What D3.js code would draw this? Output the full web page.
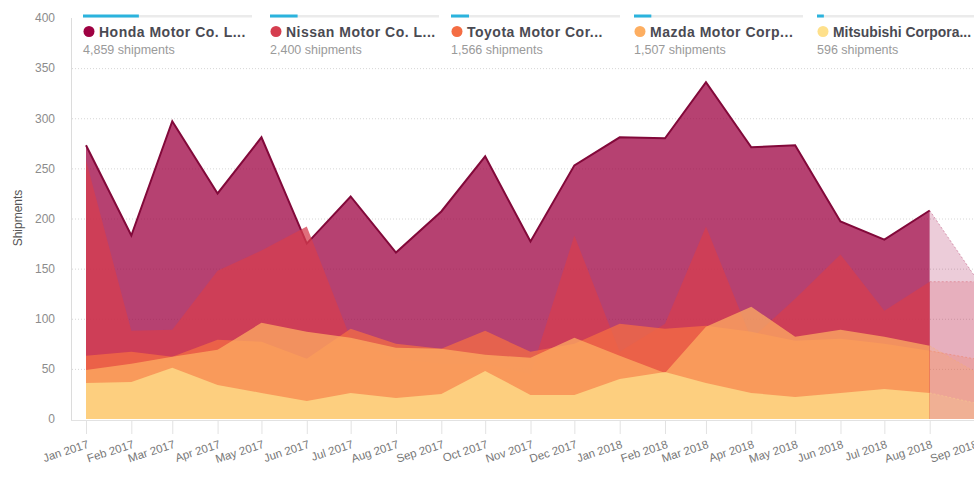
<!DOCTYPE html>
<html><head><meta charset="utf-8">
<script src="https://cdn.jsdelivr.net/npm/d3@7"></script>
<style>
body{margin:0;background:#fff;}
svg{display:block;font-family:"Liberation Sans",Arial,sans-serif;}
</style>
</head><body>
<svg id="chart" width="974" height="484"></svg>
<script>
// ---------- data ----------
const months = ["2017-01-01","2017-02-01","2017-03-01","2017-04-01","2017-05-01","2017-06-01",
  "2017-07-01","2017-08-01","2017-09-01","2017-10-01","2017-11-01","2017-12-01",
  "2018-01-01","2018-02-01","2018-03-01","2018-04-01","2018-05-01","2018-06-01",
  "2018-07-01","2018-08-01"];
const projectedMonth = "2018-09-01";
const tickLabels = ["Jan 2017","Feb 2017","Mar 2017","Apr 2017","May 2017","Jun 2017",
  "Jul 2017","Aug 2017","Sep 2017","Oct 2017","Nov 2017","Dec 2017",
  "Jan 2018","Feb 2018","Mar 2018","Apr 2018","May 2018","Jun 2018",
  "Jul 2018","Aug 2018","Sep 2018"];
const yTicks = [0,50,100,150,200,250,300,350,400];

const seriesNames  = ["Honda Motor Co. L...","Nissan Motor Co. L...","Toyota Motor Cor...","Mazda Motor Corp...","Mitsubishi Corpora..."];
const seriesTotals = [4859, 2400, 1566, 1507, 596];
const seriesColors = ["#9e0142","#d53e4f","#f46d43","#fdae61","#fee08b"];

const honda      = [273,183,297,225,281,175,222,166,207,262,177,253,281,280,336,271,273,197,179,208];
const nissan     = [258, 88, 89,148,168,192, 80, 60, 55, 55, 45,183, 67, 95,192, 80,120,164,108,137];
const toyota     = [ 63, 67, 62, 79, 77, 60, 90, 75, 70, 88, 67, 75, 95, 90, 93, 87, 78, 80, 75, 68];
const mazda      = [ 49, 55, 62, 69, 96, 87, 81, 71, 70, 64, 61, 81, 63, 46, 92,112, 82, 89, 82, 73];
const mitsubishi = [ 36, 37, 51, 34, 26, 18, 26, 21, 25, 48, 24, 24, 40, 47, 36, 26, 22, 26, 30, 26];
// projected (incomplete) month values
const projected  = [142, 137, 60, 47, 16];

const seriesValues = [honda, nissan, toyota, mazda, mitsubishi];

// ---------- setup ----------
const parse = d3.timeParse("%Y-%m-%d");
const dates = months.map(parse);
const projDate = parse(projectedMonth);
const tickDates = dates.concat([projDate]);

const svg = d3.select("#chart");
const x = d3.scaleTime().domain([dates[0], projDate]).range([86, 975]);
const y = d3.scaleLinear().domain([0, 400]).range([419, 18]);

// gridlines
svg.append("g").selectAll("line").data(yTicks.filter(v => v > 0 && v < 400)).join("line")
  .attr("x1", 72).attr("x2", 974)
  .attr("y1", d => y(d) + 0.5).attr("y2", d => y(d) + 0.5)
  .attr("stroke", "#d6d6d6").attr("stroke-width", 1).attr("stroke-dasharray", "1,2");

// y axis
const yAxis = svg.append("g").attr("transform", "translate(71,0)")
  .call(d3.axisLeft(y).tickValues(yTicks).tickSize(0).tickPadding(16));
yAxis.select(".domain").remove();
yAxis.selectAll("text").attr("fill", "#8c8c8c").style("font-size", "12px")
  .style("font-family", '"Liberation Sans",Arial,sans-serif');
svg.append("line").attr("x1", 71.5).attr("x2", 71.5).attr("y1", 18).attr("y2", 420)
  .attr("stroke", "#dcdcdc");

svg.append("text").attr("transform", "translate(22,218) rotate(-90)")
  .attr("text-anchor", "middle").attr("fill", "#555").style("font-size", "12px")
  .text("Shipments");

// areas
const area = d3.area().x(d => x(d.date)).y0(y(0)).y1(d => y(d.value));
const line = d3.line().x(d => x(d.date)).y(d => y(d.value));
const plot = svg.append("g");

seriesValues.forEach((vals, i) => {
  const pts = vals.map((v, j) => ({date: dates[j], value: v}));
  plot.append("path").datum(pts).attr("d", area)
    .attr("fill", seriesColors[i]).attr("fill-opacity", 0.75);
  if (i === 0) {
    plot.append("path").datum(pts).attr("d", line)
      .attr("fill", "none").attr("stroke", "#82093a").attr("stroke-width", 2)
      .attr("stroke-linejoin", "miter");
  }
});

// projected segment
seriesValues.forEach((vals, i) => {
  const pts = [{date: dates[dates.length - 1], value: vals[vals.length - 1]},
               {date: projDate, value: projected[i]}];
  plot.append("path").datum(pts).attr("d", area)
    .attr("fill", seriesColors[i]).attr("fill-opacity", 0.2);
  plot.append("path").datum(pts).attr("d", line)
    .attr("fill", "none").attr("stroke", seriesColors[i]).attr("stroke-opacity", 0.35)
    .attr("stroke-dasharray", "2,2").attr("stroke-width", 1);
});

// x axis
const xAxis = svg.append("g").attr("transform", "translate(0,420)")
  .call(d3.axisBottom(x).tickValues(tickDates).tickSize(14).tickFormat((d, i) => tickLabels[i]));
xAxis.select(".domain").remove();
xAxis.selectAll(".tick line").attr("stroke", "#e2e2e2");
xAxis.selectAll(".tick text")
  .attr("text-anchor", "end").attr("fill", "#777")
  .style("font-size", "11.5px").style("font-family", '"Liberation Sans",Arial,sans-serif')
  .attr("x", 0).attr("y", 0).attr("dy", 0)
  .attr("transform", "translate(3,27.5) rotate(-18)");
svg.append("line").attr("x1", 71).attr("x2", 974).attr("y1", 420.5).attr("y2", 420.5)
  .attr("stroke", "#e2e2e2");

// legend
const barW = 169;
const legendX = [83, 270, 451, 634, 817];
const shareScale = d3.scaleLinear().domain([0, 14700]).range([0, barW]);
const legend = svg.append("g");
seriesNames.forEach((name, i) => {
  const g = legend.append("g").attr("transform", `translate(${legendX[i]},0)`);
  g.append("rect").attr("x", 0).attr("y", 15).attr("width", barW).attr("height", 2.5).attr("fill", "#ebebeb");
  g.append("rect").attr("x", 0).attr("y", 14.5).attr("width", shareScale(seriesTotals[i])).attr("height", 3).attr("fill", "#2bb3dd");
  g.append("circle").attr("cx", 6).attr("cy", 31.5).attr("r", 5.5).attr("fill", seriesColors[i]);
  const t = g.append("text").attr("x", 16).attr("y", 36.5).attr("fill", "#4a4a52")
    .style("font-size", "14px").style("font-weight", "bold").text(name);
  if (i === seriesNames.length - 1) {
    t.attr("textLength", 138).attr("lengthAdjust", "spacingAndGlyphs");
  } else {
    t.style("letter-spacing", "0.5px");
  }
  g.append("text").attr("x", 0).attr("y", 54).attr("fill", "#9a9a9a")
    .style("font-size", "12.5px").text(d3.format(",")(seriesTotals[i]) + " shipments");
});
</script>
</body></html>
